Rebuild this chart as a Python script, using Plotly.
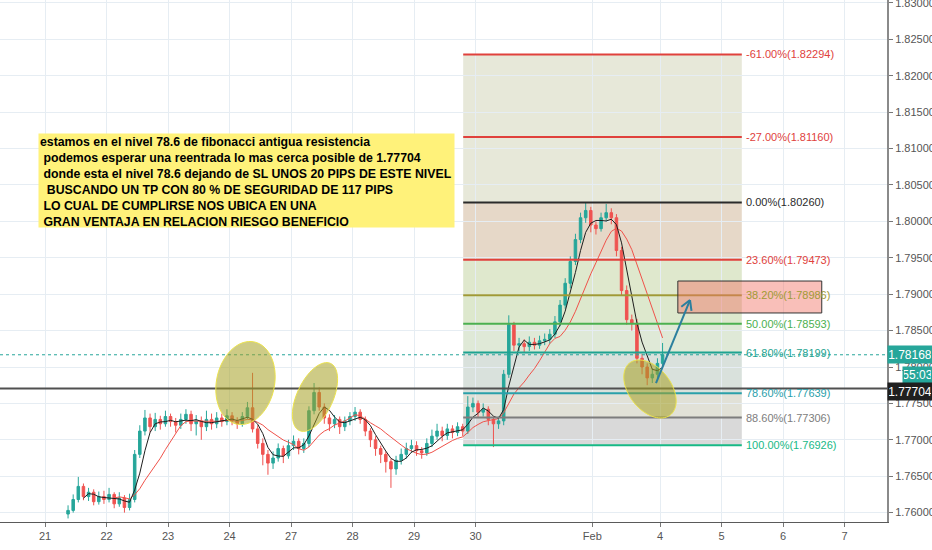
import numpy as np
import pandas as pd
import plotly.graph_objects as go

# ---------------- data ----------------
first_open = 1.7598
closes = [1.7603, 1.7618, 1.7636, 1.7622, 1.7628, 1.7615, 1.7622, 1.7618, 1.7625, 1.7612,
          1.7620, 1.7607, 1.7618, 1.7680, 1.7712, 1.7730, 1.7718, 1.7728, 1.7722, 1.7732,
          1.7725, 1.7720, 1.7728, 1.7735, 1.7722, 1.7726, 1.7718, 1.7728, 1.7722, 1.7730,
          1.7725, 1.7733, 1.7726, 1.7722, 1.7732, 1.7744, 1.7715, 1.7695, 1.7680, 1.7668,
          1.7675, 1.7688, 1.7678, 1.7692, 1.7698, 1.7688, 1.7695, 1.7740, 1.7765, 1.7745,
          1.7730, 1.7722, 1.7728, 1.7718, 1.7726, 1.7732, 1.7738, 1.7728, 1.7712, 1.7700,
          1.7688, 1.7680, 1.7670, 1.7660, 1.7672, 1.7680, 1.7688, 1.7692, 1.7685, 1.7682,
          1.7695, 1.7705, 1.7712, 1.7706, 1.7715, 1.7710, 1.7718, 1.7712, 1.7745, 1.7750,
          1.7738, 1.7742, 1.7728, 1.7722, 1.7726, 1.7790, 1.7858, 1.7830, 1.7832, 1.7828,
          1.7834, 1.7830, 1.7836, 1.7838, 1.7845, 1.7862, 1.7885, 1.7915, 1.7945, 1.7975,
          1.8005, 1.8015, 1.7995, 1.7990, 1.8005, 1.8012, 1.8005, 1.7960, 1.7905, 1.7865,
          1.7860, 1.7812, 1.7800, 1.7785, 1.7790, 1.7805, 1.7817]
highs = [1.7610, 1.7625, 1.7649, 1.7640, 1.7634, 1.7632, 1.7629, 1.7630, 1.7634, 1.7628,
         1.7628, 1.7624, 1.7626, 1.7686, 1.7720, 1.7741, 1.7736, 1.7737, 1.7733, 1.7740,
         1.7736, 1.7730, 1.7736, 1.7742, 1.7740, 1.7734, 1.7732, 1.7740, 1.7736, 1.7738,
         1.7736, 1.7742, 1.7738, 1.7731, 1.7738, 1.7752, 1.7792, 1.7720, 1.7702, 1.7686,
         1.7684, 1.7695, 1.7692, 1.7700, 1.7706, 1.7702, 1.7702, 1.7746, 1.7778, 1.7772,
         1.7750, 1.7735, 1.7734, 1.7732, 1.7732, 1.7738, 1.7745, 1.7742, 1.7732, 1.7716,
         1.7705, 1.7692, 1.7684, 1.7674, 1.7678, 1.7688, 1.7696, 1.7700, 1.7698, 1.7690,
         1.7702, 1.7714, 1.7722, 1.7718, 1.7722, 1.7720, 1.7724, 1.7722, 1.7760, 1.7758,
         1.7754, 1.7750, 1.7746, 1.7732, 1.7732, 1.7796, 1.7871, 1.7862, 1.7840, 1.7838,
         1.7842, 1.7840, 1.7843, 1.7846, 1.7852, 1.7870, 1.7892, 1.7922, 1.7952, 1.7983,
         1.8012, 1.8026, 1.8020, 1.8000, 1.8012, 1.8024, 1.8018, 1.8010, 1.7965, 1.7912,
         1.7872, 1.7866, 1.7818, 1.7805, 1.7798, 1.7812, 1.7833]
lows = [1.7592, 1.7600, 1.7614, 1.7617, 1.7616, 1.7610, 1.7611, 1.7612, 1.7614, 1.7606,
        1.7608, 1.7600, 1.7603, 1.7614, 1.7675, 1.7706, 1.7710, 1.7712, 1.7714, 1.7718,
        1.7718, 1.7710, 1.7715, 1.7722, 1.7712, 1.7706, 1.7700, 1.7712, 1.7714, 1.7716,
        1.7718, 1.7720, 1.7720, 1.7715, 1.7718, 1.7728, 1.7710, 1.7688, 1.7665, 1.7652,
        1.7660, 1.7670, 1.7668, 1.7674, 1.7686, 1.7680, 1.7682, 1.7690, 1.7735, 1.7740,
        1.7722, 1.7712, 1.7716, 1.7708, 1.7712, 1.7720, 1.7726, 1.7722, 1.7705, 1.7690,
        1.7678, 1.7668, 1.7655, 1.7634, 1.7652, 1.7666, 1.7674, 1.7682, 1.7678, 1.7674,
        1.7678, 1.7690, 1.7700, 1.7698, 1.7700, 1.7702, 1.7705, 1.7705, 1.7708, 1.7738,
        1.7730, 1.7732, 1.7720, 1.7690, 1.7715, 1.7720, 1.7785, 1.7822, 1.7822, 1.7820,
        1.7822, 1.7824, 1.7825, 1.7830, 1.7832, 1.7840, 1.7856, 1.7880, 1.7908, 1.7940,
        1.7970, 1.7998, 1.7985, 1.7982, 1.7986, 1.8000, 1.7996, 1.7952, 1.7898, 1.7858,
        1.7850, 1.7805, 1.7790, 1.7775, 1.7778, 1.7784, 1.7800]

# x axis: day-slot units, candles every 2 hours
X_START = 0.375
CANDLE_STEP = 1 / 12
tick_pos = [0, 1, 2, 3, 4, 5, 6, 7, 8.9, 10, 11, 12, 13]
tick_text = ["21", "22", "23", "24", "27", "28", "29", "30", "Feb", "4", "5", "6", "7"]

# fibonacci retracement
fib_pcts = [-61.0, -27.0, 0.0, 23.6, 38.2, 50.0, 61.8, 78.6, 88.6, 100.0]
fib_prices = [1.82294, 1.81160, 1.80260, 1.79473, 1.78986, 1.78593, 1.78199, 1.77639, 1.77306, 1.76926]
fib_colors = ["#e0413c", "#e0413c", "#2b2b2b", "#e0413c", "#a09a35", "#4cb050",
              "#1ea391", "#2aa0aa", "#7d7d7d", "#17b986"]
zone_colors = ["#e7e8d9", "#e7e8d9", "#e6d8c8", "#dfe8cd", "#dde8cd", "#dfe9d7",
               "#d9e1dc", "#e1e1d7", "#d9d9d9"]
FIB_X = [6.8, 11.33]

SUPPORT = 1.77704
LAST_PRICE = 1.78168
COUNTDOWN = "55:03"
TP_BOX_X = [10.29, 12.63]
TP_BOX_Y = [1.78742, 1.79181]
ARROW_X = [9.935, 10.488]
ARROW_Y = [1.7778, 1.7892]
# ellipses: centre x, centre price, half-widths (px), rotation (deg)
ellipses = [(3.26, 1.77780, 29, 42, 12), (4.39, 1.77588, 18, 37, 25), (9.837, 1.77698, 21, 33, -38)]

note_lines = [
    "estamos en el nivel 78.6 de fibonacci antigua resistencia",
    " podemos esperar una reentrada lo mas cerca posible de 1.77704",
    " donde esta el nivel 78.6 dejando de SL UNOS 20 PIPS DE ESTE NIVEL",
    "  BUSCANDO UN TP CON 80 % DE SEGURIDAD DE 117 PIPS",
    " LO CUAL DE CUMPLIRSE NOS UBICA EN UNA",
    " GRAN VENTAJA EN RELACION RIESGO BENEFICIO",
]

# ---------------- layout geometry ----------------
W, H = 932, 550
ML, MR, MT, MB = 0, 45, 0, 28
PW, PH = W - ML - MR, H - MT - MB
XR = [-0.7317, 13.691]
YR = [1.75871, 1.83041]
PX_X = PW / (XR[1] - XR[0])
PX_Y = PH / (YR[1] - YR[0])

n = len(closes)
cx = [X_START + i * CANDLE_STEP for i in range(n)]
opens = [first_open] + closes[:-1]
s = pd.Series(closes)
ma_fast = s.rolling(4).mean()
ma_slow = s.rolling(10).mean()

fig = go.Figure()
fig.add_trace(go.Candlestick(
    x=cx, open=opens, high=highs, low=lows, close=closes,
    increasing=dict(line=dict(color="#26a69a", width=1), fillcolor="#26a69a"),
    decreasing=dict(line=dict(color="#ef5350", width=1), fillcolor="#ef5350"),
    whiskerwidth=0, showlegend=False, hoverinfo="skip"))
fig.add_trace(go.Scatter(x=cx, y=ma_slow, mode="lines", line=dict(color="#f0524a", width=1),
                         showlegend=False, hoverinfo="skip"))
fig.add_trace(go.Scatter(x=cx, y=ma_fast, mode="lines", line=dict(color="#1e1e1e", width=1),
                         showlegend=False, hoverinfo="skip"))

shapes = []
annots = []
# fib zones
for k in range(len(fib_prices) - 1):
    shapes.append(dict(type="rect", xref="x", yref="y", x0=FIB_X[0], x1=FIB_X[1],
                       y0=fib_prices[k + 1], y1=fib_prices[k], fillcolor=zone_colors[k],
                       line=dict(width=0), layer="below"))
# fib lines + labels
for p, v, c in zip(fib_pcts, fib_prices, fib_colors):
    shapes.append(dict(type="line", xref="x", yref="y", x0=FIB_X[0], x1=FIB_X[1], y0=v, y1=v,
                       line=dict(color=c, width=2)))
    annots.append(dict(x=FIB_X[1], y=v, xref="x", yref="y", xanchor="left", yanchor="middle",
                       xshift=2, text=f"{p:.2f}%({v:.5f})", showarrow=False,
                       font=dict(family="Liberation Sans", size=11, color=c)))

# support line and last price line
shapes.append(dict(type="line", xref="paper", yref="y", x0=0, x1=1, y0=SUPPORT, y1=SUPPORT,
                   line=dict(color="#505050", width=2)))
shapes.append(dict(type="line", xref="paper", yref="y", x0=0, x1=1, y0=LAST_PRICE, y1=LAST_PRICE,
                   line=dict(color="#26a69a", width=1, dash="dot")))

# TP box
shapes.append(dict(type="rect", xref="x", yref="y", x0=TP_BOX_X[0], x1=TP_BOX_X[1],
                   y0=TP_BOX_Y[0], y1=TP_BOX_Y[1], fillcolor="rgba(242,112,100,0.45)",
                   line=dict(color="#333333", width=1)))

# ellipses
def ellipse_path(ex, ey, a, b, rot):
    t = np.linspace(0, 2 * np.pi, 72)
    th = np.radians(rot)
    dx = a * np.cos(t) * np.cos(th) - b * np.sin(t) * np.sin(th)
    dy = a * np.cos(t) * np.sin(th) + b * np.sin(t) * np.cos(th)
    xs = ex + dx / PX_X
    ys = ey - dy / PX_Y
    return "M " + " L ".join(f"{x:.5f},{y:.6f}" for x, y in zip(xs, ys)) + " Z"

for ex, ey, a, b, rot in ellipses:
    shapes.append(dict(type="path", xref="x", yref="y", path=ellipse_path(ex, ey, a, b, rot),
                       fillcolor="rgba(165,160,35,0.55)", line=dict(color="#ece34a", width=1)))

# arrow
ARROW_C = "#2b7f9e"
shapes.append(dict(type="line", xref="x", yref="y", x0=ARROW_X[0], y0=ARROW_Y[0],
                   x1=ARROW_X[1], y1=ARROW_Y[1], line=dict(color=ARROW_C, width=2)))
dxp = (ARROW_X[1] - ARROW_X[0]) * PX_X
dyp = -(ARROW_Y[1] - ARROW_Y[0]) * PX_Y
L = np.hypot(dxp, dyp)
ux, uy = -dxp / L, -dyp / L
for ang in (np.radians(30), -np.radians(30)):
    wx = ux * np.cos(ang) - uy * np.sin(ang)
    wy = ux * np.sin(ang) + uy * np.cos(ang)
    shapes.append(dict(type="line", xref="x", yref="y", x0=ARROW_X[1], y0=ARROW_Y[1],
                       x1=ARROW_X[1] + 11 * wx / PX_X, y1=ARROW_Y[1] - 11 * wy / PX_Y,
                       line=dict(color=ARROW_C, width=2)))

# note box
note_html = "<br>".join(
    "\u00a0" * (len(l) - len(l.lstrip(" "))) + "<b>" + l.lstrip(" ") + "</b>" for l in note_lines)
annots.append(dict(x=38 / PW, y=1 - 133 / PH, xref="paper", yref="paper", xanchor="left",
                   yanchor="top", text=note_html, showarrow=False, align="left", valign="top",
                   bgcolor="#fff27a", width=413, height=91, borderpad=1,
                   font=dict(family="Liberation Sans", size=12.3, color="#000000")))

# axis price labels
annots.append(dict(x=1, y=LAST_PRICE, xref="paper", yref="y", xanchor="left", yanchor="middle",
                   text=f"{LAST_PRICE:.5f}", showarrow=False, bgcolor="#26a69a", width=42, height=15,
                   font=dict(family="Liberation Sans", size=12, color="white")))
annots.append(dict(x=1, y=LAST_PRICE, xref="paper", yref="y", xanchor="left", yanchor="middle",
                   yshift=-20, xshift=15, text=COUNTDOWN, showarrow=False, bgcolor="#26a69a",
                   width=27, height=14, font=dict(family="Liberation Sans", size=12, color="white")))
annots.append(dict(x=1, y=SUPPORT, xref="paper", yref="y", xanchor="left", yanchor="middle",
                   yshift=-3, text=f"{SUPPORT:.5f}", showarrow=False, bgcolor="#1f1f1f",
                   width=42, height=15,
                   font=dict(family="Liberation Sans", size=12, color="white")))

GRID = "#e6edf3"
fig.update_layout(
    width=W, height=H, margin=dict(l=ML, r=MR, t=MT, b=MB, autoexpand=False),
    paper_bgcolor="white", plot_bgcolor="white", showlegend=False,
    shapes=shapes, annotations=annots,
    xaxis=dict(range=XR, tickvals=tick_pos, ticktext=tick_text, showgrid=True, gridcolor=GRID,
               zeroline=False, showline=True, linecolor="#5a5a5a", linewidth=1,
               ticks="outside", ticklen=4, tickcolor="#777", rangeslider=dict(visible=False),
               tickfont=dict(family="Liberation Sans", size=11, color="#555")),
    yaxis=dict(range=YR, side="right", tick0=1.76, dtick=0.005, tickformat=".5f",
               showgrid=True, gridcolor=GRID, zeroline=False, showline=True,
               linecolor="#8a8a8a", linewidth=2, ticks="outside", ticklen=4, tickcolor="#777",
               ticklabeloverflow="allow",
               tickfont=dict(family="Liberation Sans", size=11, color="#555")),
)
fig.write_html("out.html", config={"displayModeBar": False},
               post_script="document.body.style.margin='0';")
